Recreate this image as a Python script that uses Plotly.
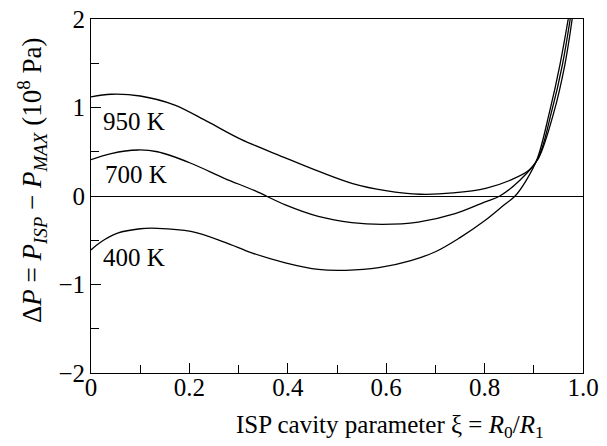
import plotly.graph_objects as go

# Data
x_950 = [0.0, 0.041, 0.10, 0.169, 0.237, 0.305, 0.391, 0.462, 0.532, 0.599, 0.670, 0.736, 0.804, 0.855, 0.890, 0.910, 0.941, 0.963, 0.978]
y_950 = [1.12, 1.15, 1.13, 1.03, 0.84, 0.64, 0.44, 0.28, 0.14, 0.06, 0.02, 0.035, 0.09, 0.185, 0.29, 0.43, 0.95, 1.48, 2.0]

x_700 = [0.0, 0.041, 0.095, 0.135, 0.203, 0.271, 0.333, 0.395, 0.462, 0.530, 0.592, 0.665, 0.740, 0.804, 0.831, 0.870, 0.908, 0.936, 0.958, 0.974]
y_700 = [0.41, 0.48, 0.52, 0.50, 0.37, 0.20, 0.06, -0.10, -0.23, -0.30, -0.32, -0.295, -0.20, -0.06, 0.0, 0.17, 0.42, 0.95, 1.48, 2.0]

x_400 = [0.0, 0.02, 0.054, 0.10, 0.135, 0.203, 0.271, 0.328, 0.395, 0.462, 0.518, 0.585, 0.650, 0.700, 0.750, 0.800, 0.840, 0.862, 0.885, 0.907, 0.932, 0.953, 0.970]
y_400 = [-0.61, -0.52, -0.42, -0.37, -0.365, -0.40, -0.52, -0.645, -0.755, -0.83, -0.84, -0.81, -0.73, -0.63, -0.47, -0.28, -0.10, 0.0, 0.18, 0.42, 0.95, 1.48, 2.0]

labels = ["950 K", "700 K", "400 K"]
label_x = [0.087, 0.092, 0.087]
label_y = [0.84, 0.24, -0.69]

x_tickvals = [0, 0.2, 0.4, 0.6, 0.8, 1.0]
x_ticktext = ["0", "0.2", "0.4", "0.6", "0.8", "1.0"]
y_tickvals = [-2, -1, 0, 1, 2]
y_ticktext = ["\u22122", "\u22121", "0", "1", "2"]

x_title = "ISP cavity parameter \u03be = <i>R</i><sub>0</sub>/<i>R</i><sub>1</sub>"
y_title = ("\u0394<i>P</i> = <i>P</i><sub><i>ISP</i></sub> \u2212 "
           "<i>P</i><sub><i>MAX</i></sub> (10<sup>8</sup> Pa)")

FONT = "Liberation Serif, Times New Roman, serif"

fig = go.Figure()
for xs, ys in [(x_950, y_950), (x_700, y_700), (x_400, y_400)]:
    fig.add_trace(go.Scatter(x=xs, y=ys, mode="lines",
                             line=dict(color="black", width=1.3, shape="spline", smoothing=1.0),
                             showlegend=False, hoverinfo="skip"))

for t, lx, ly in zip(labels, label_x, label_y):
    fig.add_annotation(x=lx, y=ly, text=t, showarrow=False,
                       font=dict(family=FONT, size=25, color="black"))

# axis titles as annotations (positioned like the reference)
fig.add_annotation(xref="paper", yref="paper", x=0.607, y=-0.152,
                   xanchor="center", yanchor="middle", showarrow=False,
                   text=x_title, font=dict(family=FONT, size=25, color="black"))
fig.add_annotation(xref="paper", yref="paper", x=-0.12, y=0.545,
                   xanchor="center", yanchor="middle", showarrow=False, textangle=-90,
                   text=y_title, font=dict(family=FONT, size=27, color="black"))

# page body has an 8px default margin: compensate so plot area sits at 91..583 x 19..373
fig.update_layout(
    width=599, height=438,
    margin=dict(l=83, r=24, t=11, b=73),
    plot_bgcolor="white", paper_bgcolor="white",
    font=dict(family=FONT, size=25, color="black"),
)
fig.update_xaxes(
    range=[0, 1.0], showgrid=False, zeroline=False, automargin=False,
    showline=True, linecolor="black", linewidth=1, mirror=True,
    tickmode="array", tickvals=x_tickvals, ticktext=x_ticktext,
    ticks="inside", ticklen=10, tickcolor="black", tickwidth=1,
    minor=dict(ticks="inside", ticklen=8, dtick=0.1, tickcolor="black", showgrid=False),
    tickfont=dict(size=25, color="black"), ticklabelstandoff=-8,
    ticklabeloverflow="allow",
)
fig.update_yaxes(
    range=[-2, 2], showgrid=False, automargin=False,
    zeroline=True, zerolinecolor="black", zerolinewidth=1,
    showline=True, linecolor="black", linewidth=1, mirror=True,
    tickmode="array", tickvals=y_tickvals, ticktext=y_ticktext,
    ticks="inside", ticklen=10, tickcolor="black", tickwidth=1,
    minor=dict(ticks="inside", ticklen=8, dtick=0.5, tickcolor="black", showgrid=False),
    tickfont=dict(size=25, color="black"), ticklabelstandoff=0,
    ticklabeloverflow="allow",
)

fig.write_html("out.html")
